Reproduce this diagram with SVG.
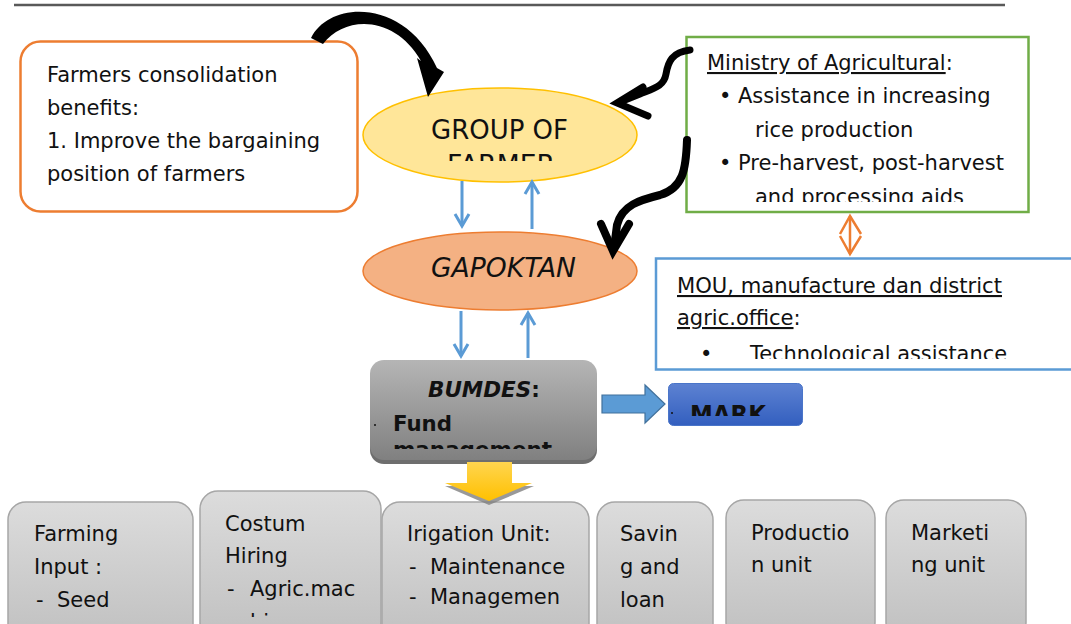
<svg xmlns="http://www.w3.org/2000/svg" width="1071" height="624" viewBox="0 0 1071 624">
<style>
text{font-family:"DejaVu Sans","Liberation Sans",sans-serif;fill:#111}
.t21{font-size:21px}
.blu{stroke:#5B9BD5;stroke-width:3;fill:none}
.unit{stroke:#A6A6A6;stroke-width:1.5;fill:url(#gUnit)}
.blk{stroke:#000;fill:none;stroke-linecap:round}
</style>
<defs>
<marker id="ah" viewBox="0 0 20 20" refX="17" refY="10" markerWidth="20" markerHeight="20" markerUnits="userSpaceOnUse" orient="auto">
<path d="M5,3 L17,10 L5,17" fill="none" stroke="#5B9BD5" stroke-width="3"/>
</marker>
<linearGradient id="gUnit" x1="0" y1="0" x2="0" y2="1"><stop offset="0" stop-color="#DCDCDC"/><stop offset="1" stop-color="#C0C0C0"/></linearGradient>
<linearGradient id="gBum" x1="0" y1="0" x2="0" y2="1"><stop offset="0" stop-color="#B5B5B5"/><stop offset="1" stop-color="#808080"/></linearGradient>
<linearGradient id="gMark" x1="0" y1="0" x2="0" y2="1"><stop offset="0" stop-color="#5D82D2"/><stop offset="1" stop-color="#335FBF"/></linearGradient>
<linearGradient id="gYel" x1="0" y1="0" x2="0" y2="1"><stop offset="0" stop-color="#FFD54F"/><stop offset="1" stop-color="#FFC000"/></linearGradient>
<clipPath id="cGroup"><rect x="350" y="80" width="300" height="81"/></clipPath>
<clipPath id="cMin"><rect x="686" y="36" width="345" height="166"/></clipPath>
<clipPath id="cMou"><rect x="655" y="258" width="420" height="101"/></clipPath>
<clipPath id="cBum"><rect x="370" y="360" width="227" height="89"/></clipPath>
<clipPath id="cMark"><rect x="668" y="383" width="135" height="33"/></clipPath>
<clipPath id="cCost"><rect x="200" y="490" width="181" height="127"/></clipPath>
</defs>

<line x1="14" y1="5" x2="1005" y2="5" stroke="#595959" stroke-width="2.5"/>

<g id="benefits">
<rect x="20.5" y="41.5" width="337" height="170" rx="20" fill="#fff" stroke="#ED7D31" stroke-width="2.5"/>
<text class="t21" x="47" y="82">Farmers consolidation</text>
<text class="t21" x="47" y="115">benefits:</text>
<text class="t21" x="47" y="148">1. Improve the bargaining</text>
<text class="t21" x="47" y="181">position of farmers</text>
</g>

<g id="group-of-farmer">
<ellipse cx="500" cy="135" rx="137" ry="47" fill="#FFE699" stroke="#FFC000" stroke-width="1.5"/>
<g clip-path="url(#cGroup)">
<text x="431" y="139" font-size="26" textLength="137" lengthAdjust="spacingAndGlyphs">GROUP OF</text>
<text x="447" y="174" font-size="26" textLength="108" lengthAdjust="spacingAndGlyphs">FARMER</text>
</g>
</g>

<g id="ministry">
<rect x="686.5" y="37" width="342" height="175" fill="#fff" stroke="#70AD47" stroke-width="2.5"/>
<g clip-path="url(#cMin)">
<text class="t21" x="707" y="70"><tspan text-decoration="underline">Ministry of Agricultural</tspan>:</text>
<text class="t21" x="719" y="103">•</text>
<text class="t21" x="738" y="103">Assistance in increasing</text>
<text class="t21" x="755" y="137">rice production</text>
<text class="t21" x="719" y="170">•</text>
<text class="t21" x="738" y="170">Pre-harvest, post-harvest</text>
<text class="t21" x="755" y="204">and processing aids</text>
</g>
</g>

<g id="gapoktan">
<ellipse cx="500" cy="271" rx="137" ry="39" fill="#F4B183" stroke="#ED7D31" stroke-width="1.5"/>
<text x="431" y="277" font-size="26" font-style="italic" textLength="145" lengthAdjust="spacingAndGlyphs">GAPOKTAN</text>
</g>

<g id="mou">
<rect x="656" y="258.5" width="430" height="111" fill="#fff" stroke="#5B9BD5" stroke-width="2.5"/>
<g clip-path="url(#cMou)">
<text class="t21" x="677" y="293" text-decoration="underline" textLength="325" lengthAdjust="spacingAndGlyphs">MOU, manufacture dan district</text>
<text class="t21" x="677" y="325"><tspan text-decoration="underline">agric.office</tspan>:</text>
<text class="t21" x="700" y="361">•</text>
<text class="t21" x="750" y="361" textLength="257" lengthAdjust="spacingAndGlyphs">Technological assistance</text>
</g>
</g>

<g id="bumdes">
<rect x="370" y="364" width="227" height="100" rx="14" fill="#6E6E6E"/>
<rect x="370" y="360" width="227" height="100" rx="14" fill="url(#gBum)"/>
<g clip-path="url(#cBum)">
<text x="428" y="397" font-size="21.5" font-weight="bold"><tspan font-style="italic">BUMDES</tspan>:</text>
<circle cx="375" cy="425" r="1" fill="#111"/>
<text x="393" y="431" font-size="22" font-weight="bold" textLength="59" lengthAdjust="spacingAndGlyphs">Fund</text>
<text x="393" y="457" font-size="22" font-weight="bold" textLength="159" lengthAdjust="spacingAndGlyphs">management</text>
</g>
</g>

<g id="mark">
<rect x="668.5" y="383.5" width="134" height="42" rx="5" fill="url(#gMark)" stroke="#4A75C9" stroke-width="1"/>
<circle cx="672" cy="413" r="1" fill="#111"/>
<g clip-path="url(#cMark)">
<text x="690" y="423" font-size="24" font-weight="bold" textLength="76" lengthAdjust="spacingAndGlyphs">MARK</text>
</g>
</g>

<g id="unit-farming-input">
<rect class="unit" x="8" y="502" width="185" height="140" rx="18"/>
<text class="t21" x="34" y="541">Farming</text>
<text class="t21" x="34" y="574">Input :</text>
<text class="t21" x="36" y="607">-</text>
<text class="t21" x="57" y="607">Seed</text>
</g>
<g id="unit-costum-hiring">
<rect class="unit" x="200" y="491" width="181" height="150" rx="18"/>
<text class="t21" x="225" y="531">Costum</text>
<text class="t21" x="225" y="563">Hiring</text>
<text class="t21" x="227" y="596">-</text>
<text class="t21" x="250" y="596">Agric.mac</text>
<g clip-path="url(#cCost)"><text class="t21" x="250" y="629">hinery</text></g>
</g>
<g id="unit-irigation">
<rect class="unit" x="382" y="502" width="207" height="140" rx="18"/>
<text class="t21" x="407" y="541">Irigation Unit:</text>
<text class="t21" x="409" y="574">-</text>
<text class="t21" x="430" y="574">Maintenance</text>
<text class="t21" x="409" y="604">-</text>
<text class="t21" x="430" y="604">Managemen</text>
</g>
<g id="unit-saving">
<rect class="unit" x="597" y="502" width="116" height="140" rx="18"/>
<text class="t21" x="620" y="541">Savin</text>
<text class="t21" x="620" y="574">g and</text>
<text class="t21" x="620" y="607">loan</text>
</g>
<g id="unit-production">
<rect class="unit" x="726" y="500" width="149" height="140" rx="18"/>
<text class="t21" x="751" y="540">Productio</text>
<text class="t21" x="751" y="572">n unit</text>
</g>
<g id="unit-marketing">
<rect class="unit" x="886" y="500" width="140" height="140" rx="18"/>
<text class="t21" x="911" y="540">Marketi</text>
<text class="t21" x="911" y="572">ng unit</text>
</g>

<g id="connectors">
<line class="blu" x1="462" y1="181" x2="462" y2="226" marker-end="url(#ah)"/>
<line class="blu" x1="532" y1="229" x2="532" y2="182" marker-end="url(#ah)"/>
<line class="blu" x1="461" y1="311" x2="461" y2="356" marker-end="url(#ah)"/>
<line class="blu" x1="528" y1="358" x2="528" y2="313" marker-end="url(#ah)"/>
<path d="M311,38 C330,0 405,-2 437,68 L444,72 L428,97 L417,58 L421,61 C395,15 345,15 323,44 Z" fill="#000"/>
<path class="blk" stroke-width="7" d="M690,50 C672,52 668,62 666,74 C664,86 655,88 640,94 L620,102"/>
<path class="blk" stroke-width="7" stroke-linejoin="miter" d="M643,87 L617,103 L648,116"/>
<path class="blk" stroke-width="8" d="M687,140 C686,170 683,188 660,195 C640,200 622,205 617,225 L614,248"/>
<path class="blk" stroke-width="8" stroke-linejoin="miter" d="M601,224 L613,251 L629,224"/>
<g fill="none" stroke="#ED7D31" stroke-width="2.5">
<line x1="850" y1="216" x2="850" y2="254"/>
<path d="M840,234 L850,216 L861,234"/>
<path d="M840,236 L850,254 L861,236"/>
</g>
<path d="M602,395 L645,395 L645,385 L665,404 L645,423 L645,413 L602,413 Z" fill="#5B9BD5" stroke="#41719C" stroke-width="1.2"/>
<path d="M467,465 L512,465 L512,486 L534,486 L489,505 L445,486 L467,486 Z" fill="#7F7F7F" opacity="0.8"/>
<path d="M467,462 L512,462 L512,483 L532,483 L489,501 L445,483 L467,483 Z" fill="url(#gYel)"/>
</g>
</svg>
